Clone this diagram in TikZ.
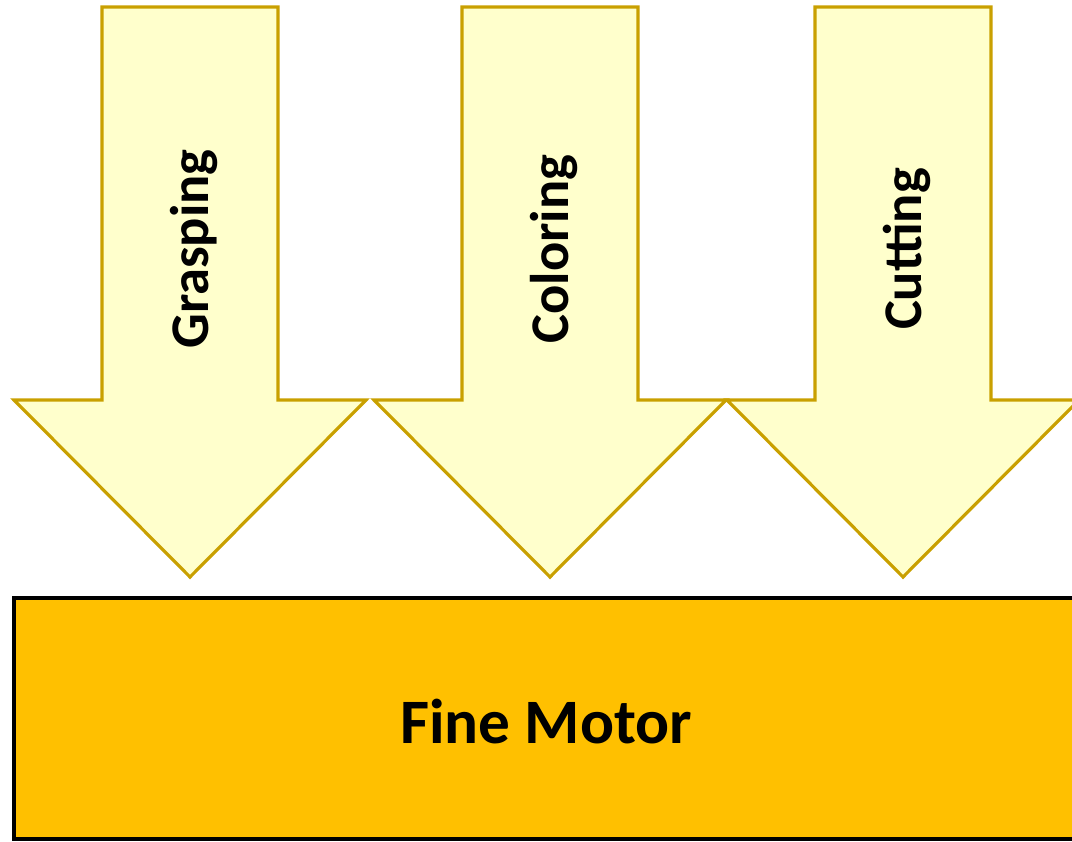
\documentclass[tikz,border=0pt]{standalone}
\usepackage{fontspec}
\setmainfont{Carlito}

\definecolor{pale}{HTML}{FFFFCC}
\definecolor{gold}{HTML}{C9A000}
\definecolor{amber}{HTML}{FFC000}

\tikzset{
    skill/.style={fill=pale, draw=gold, line width=0.9pt, line join=miter},
    skilltext/.style={rotate=90, font=\bfseries\fontsize{15.5}{18}\selectfont},
    basebox/.style={fill=amber, draw=black, line width=0.9pt},
    basetext/.style={font=\bfseries\fontsize{18}{22}\selectfont}
}

\begin{document}
\begin{tikzpicture}[x=0.01cm, y=-0.01cm]
                        \clip (0,0) rectangle (1072,841);

                        % three down arrows, one per skill
                        \foreach \c/\name/\txt in {%
                            190/grasp/Grasping,
                            550/color/Coloring,
                            903/cut/Cutting%
                            }{
                            \draw[skill] (\c-88,7) -- (\c+88,7) -- (\c+88,400)
                                -- (\c+176,400) -- (\c,577) -- (\c-176,400)
                                -- (\c-88,400) -- cycle;
                            \node[skilltext] (\name) at (\c+4,249) {\txt};
                        }

                        % base bar
                        \draw[basebox] (14,598) rectangle (1085,839);
                        \node[basetext] (motor) at (546,722) {Fine Motor};

                    \end{tikzpicture}
\end{document}
